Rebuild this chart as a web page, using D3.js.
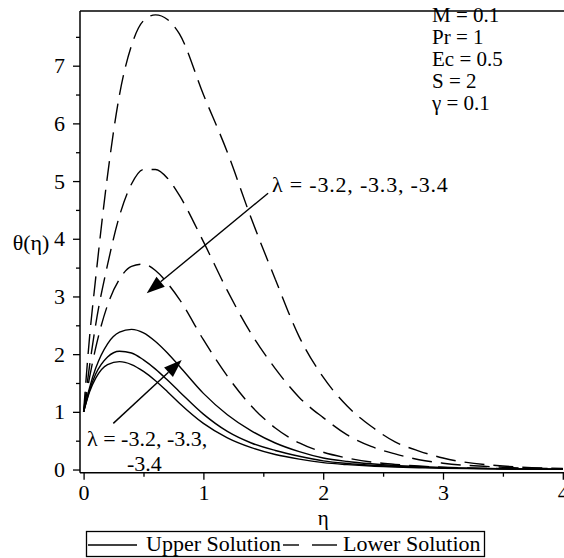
<!DOCTYPE html>
<html>
<head>
<meta charset="utf-8">
<script src="https://cdn.jsdelivr.net/npm/d3@7"></script>
<style>
  body { margin: 0; background: #fff; }
  svg text { font-family: "Liberation Serif", "Times New Roman", serif; fill: #000; }
</style>
</head>
<body>
<svg class="chart"></svg>
<script>
// values
var eta = [0, 0.05, 0.1, 0.2, 0.3, 0.4, 0.5, 0.6, 0.7, 0.8, 1.0, 1.2, 1.4, 1.6, 1.8, 2.0, 2.2, 2.4, 2.6, 2.8, 3.0, 3.5, 4.0];

var upper1 = [1, 1.35, 1.58, 1.82, 1.87, 1.82, 1.70, 1.54, 1.35, 1.15, 0.80, 0.55, 0.38, 0.26, 0.18, 0.12, 0.085, 0.06, 0.045, 0.032, 0.022, 0.01, 0.005];
var upper2 = [1, 1.38, 1.65, 1.95, 2.05, 2.02, 1.90, 1.74, 1.55, 1.35, 0.96, 0.66, 0.46, 0.33, 0.23, 0.15, 0.105, 0.075, 0.055, 0.04, 0.028, 0.012, 0.005];
var upper3 = [1, 1.42, 1.75, 2.18, 2.38, 2.43, 2.37, 2.22, 2.02, 1.79, 1.32, 0.95, 0.67, 0.46, 0.31, 0.20, 0.14, 0.10, 0.07, 0.05, 0.035, 0.015, 0.006];

var lower1 = [1, 1.6, 2.1, 2.85, 3.3, 3.52, 3.56, 3.45, 3.23, 2.95, 2.25, 1.62, 1.10, 0.72, 0.46, 0.30, 0.20, 0.13, 0.09, 0.06, 0.04, 0.015, 0.006];
var lower2 = [1, 1.8, 2.5, 3.55, 4.4, 4.95, 5.2, 5.2, 5.05, 4.75, 3.95, 3.1, 2.35, 1.75, 1.25, 0.9, 0.6, 0.4, 0.27, 0.17, 0.11, 0.04, 0.012];
var lower3 = [1, 2.3, 3.3, 5.1, 6.5, 7.35, 7.78, 7.88, 7.8, 7.55, 6.5, 5.5, 4.35, 3.3, 2.3, 1.6, 1.1, 0.75, 0.48, 0.32, 0.2, 0.06, 0.02];

var xTicks = [0, 1, 2, 3, 4];
var xMinorTicks = [0.5, 1.5, 2.5, 3.5];
var yTicks = [0, 1, 2, 3, 4, 5, 6, 7];
var yMinorTicks = [0.5, 1.5, 2.5, 3.5, 4.5, 5.5, 6.5, 7.5];
var params = ["M = 0.1", "Pr = 1", "Ec = 0.5", "S = 2", "\u03b3 = 0.1"];
var lambdaText = "\u03bb = -3.2, -3.3, -3.4";

var width = 564, height = 558;
var plot = {left: 80, right: 564, top: 11, bottom: 472.7};
var fs = '22px';

var svg = d3.select('.chart')
  .attr('width', width)
  .attr('height', height);

var x = d3.scaleLinear().domain([-0.03, 4.01]).range([plot.left, plot.right]);
var y = d3.scaleLinear().domain([-0.055, 7.948]).range([plot.bottom, plot.top]);

// frame: top line
svg.append('line')
  .attr('x1', plot.left).attr('x2', plot.right)
  .attr('y1', plot.top).attr('y2', plot.top)
  .attr('stroke', '#000').attr('stroke-width', 1.5);

// axes
var xAxis = d3.axisBottom(x).tickValues(xTicks).tickSize(7).tickPadding(5).tickFormat(d3.format('d'));
var xMinor = d3.axisBottom(x).tickValues(xMinorTicks).tickSize(4).tickFormat('');
var yAxis = d3.axisLeft(y).tickValues(yTicks).tickSize(7).tickPadding(8).tickFormat(d3.format('d'));
var yMinor = d3.axisLeft(y).tickValues(yMinorTicks).tickSize(4).tickFormat('');

function styleAxis(g) {
  g.select('.domain').remove();
  g.attr('font-family', null).attr('font-size', null);
  g.selectAll('line').attr('stroke', '#000').attr('stroke-width', 1.3);
  g.selectAll('text').style('font-size', fs).attr('fill', '#000');
}

svg.append('g').attr('transform', 'translate(0,' + plot.bottom + ')').call(xAxis).call(styleAxis);
svg.append('g').attr('transform', 'translate(0,' + plot.bottom + ')').call(xMinor).call(styleAxis);
svg.append('g').attr('transform', 'translate(' + plot.left + ',0)').call(yAxis).call(styleAxis);
svg.append('g').attr('transform', 'translate(' + plot.left + ',0)').call(yMinor).call(styleAxis);

svg.append('line')
  .attr('x1', plot.left).attr('x2', plot.right)
  .attr('y1', plot.bottom).attr('y2', plot.bottom)
  .attr('stroke', '#000').attr('stroke-width', 1.5);
svg.append('line')
  .attr('x1', plot.left).attr('x2', plot.left)
  .attr('y1', plot.top).attr('y2', plot.bottom)
  .attr('stroke', '#000').attr('stroke-width', 1.5);

// curves
var line = d3.line()
  .x(function (d) { return x(d[0]); })
  .y(function (d) { return y(d[1]); })
  .curve(d3.curveMonotoneX);

var series = [
  {vals: upper1, dash: null},
  {vals: upper2, dash: null},
  {vals: upper3, dash: null},
  {vals: lower1, dash: '20,9'},
  {vals: lower2, dash: '20,9'},
  {vals: lower3, dash: '20,9'}
];

series.forEach(function (s) {
  svg.append('path')
    .datum(eta.map(function (e, i) { return [e, s.vals[i]]; }))
    .attr('d', line)
    .attr('fill', 'none')
    .attr('stroke', '#000')
    .attr('stroke-width', 1.4)
    .attr('stroke-dasharray', s.dash);
});

// axis labels
svg.append('text').attr('x', x(2)).attr('y', 525).attr('text-anchor', 'middle')
  .style('font-size', '21px').text('\u03b7');
svg.append('text').attr('x', 31).attr('y', 250).attr('text-anchor', 'middle')
  .style('font-size', fs).text('\u03b8(\u03b7)');

// parameter block
svg.selectAll('.param').data(params).enter().append('text')
  .attr('class', 'param')
  .attr('x', 432)
  .attr('y', function (d, i) { return 22 + i * 22; })
  .style('font-size', '21px')
  .text(function (d) { return d; });

// arrows
function arrow(x1, y1, x2, y2) {
  var px1 = x(x1), py1 = y(y1), px2 = x(x2), py2 = y(y2);
  var ang = Math.atan2(py2 - py1, px2 - px1);
  var len = 18, half = 6.5;
  var bx = px2 - len * Math.cos(ang), by = py2 - len * Math.sin(ang);
  svg.append('line')
    .attr('x1', px1).attr('y1', py1).attr('x2', bx).attr('y2', by)
    .attr('stroke', '#000').attr('stroke-width', 1.4);
  var pts = [
    [px2, py2],
    [bx + half * Math.sin(ang), by - half * Math.cos(ang)],
    [bx - half * Math.sin(ang), by + half * Math.cos(ang)]
  ];
  svg.append('path').attr('d', 'M' + pts.join('L') + 'Z').attr('fill', '#000');
}
arrow(1.54, 4.79, 0.527, 3.055);
arrow(0.248, 0.80, 0.819, 1.898);

svg.append('text').attr('x', 272).attr('y', 192).style('font-size', fs)
  .style('letter-spacing', '0.8px').text(lambdaText);
svg.append('text').attr('x', 87).attr('y', 446).style('font-size', fs).text('\u03bb = -3.2, -3.3,');
svg.append('text').attr('x', 127).attr('y', 471).style('font-size', fs).text('-3.4');

// legend
var legend = svg.append('g');
legend.append('rect')
  .attr('x', 86.5).attr('y', 531.5).attr('width', 398).attr('height', 25)
  .attr('fill', 'none').attr('stroke', '#000').attr('stroke-width', 1.3);
legend.append('line').attr('x1', 88).attr('x2', 137).attr('y1', 545).attr('y2', 545)
  .attr('stroke', '#000').attr('stroke-width', 1.4);
legend.append('text').attr('x', 146).attr('y', 551).style('font-size', fs).text('Upper Solution');
legend.append('line').attr('x1', 283).attr('x2', 299).attr('y1', 545).attr('y2', 545)
  .attr('stroke', '#000').attr('stroke-width', 1.4);
legend.append('line').attr('x1', 312).attr('x2', 337).attr('y1', 545).attr('y2', 545)
  .attr('stroke', '#000').attr('stroke-width', 1.4);
legend.append('text').attr('x', 343).attr('y', 551).style('font-size', fs).text('Lower Solution');

svg.selectAll('text').style('font-family', '"Liberation Serif", "Times New Roman", serif');
</script>
</body>
</html>
